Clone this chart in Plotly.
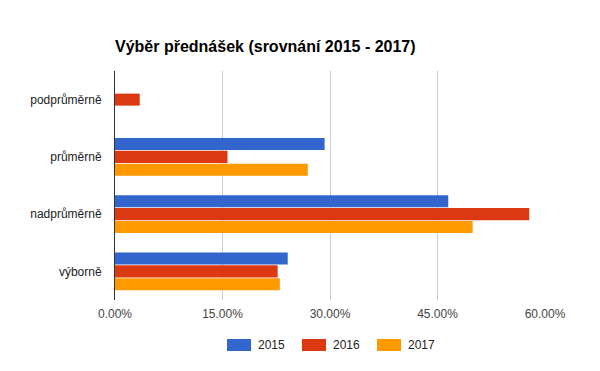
import plotly.graph_objects as go

categories = ["podprůměrně", "průměrně", "nadprůměrně", "výborně"]
years = ["2015", "2016", "2017"]
v2015 = [0, 0.2925, 0.465, 0.241]
v2016 = [0.0345, 0.157, 0.578, 0.227]
v2017 = [0, 0.269, 0.499, 0.230]
colors = ["#3366cc", "#dc3912", "#ff9900"]
tick_vals = [0, 0.15, 0.30, 0.45, 0.60]
tick_text = ["0.00%", "15.00%", "30.00%", "45.00%", "60.00%"]

L, R, T, B, W, H = 115, 55, 71, 71, 600, 371
PW, PH = W - L - R, H - T - B

fig = go.Figure()
for name, vals, col in zip(years, [v2015, v2016, v2017], colors):
    fig.add_trace(go.Bar(
        y=categories, x=vals, name=name, orientation="h",
        marker=dict(color=col, line=dict(width=0)), showlegend=False,
    ))

# custom legend (wide swatches like the reference)
legend_x0 = [227, 302, 377]
for name, col, x0 in zip(years, colors, legend_x0):
    fig.add_shape(type="rect", xref="paper", yref="paper",
                  x0=(x0 - L) / PW, x1=(x0 + 24 - L) / PW,
                  y0=(T + PH - 339) / PH, y1=(T + PH - 351) / PH,
                  fillcolor=col, line=dict(width=0))
    fig.add_annotation(text=name, xref="paper", yref="paper",
                       x=(x0 + 29 - L) / PW, y=(T + PH - 345) / PH,
                       xanchor="left", yanchor="middle", showarrow=False,
                       font=dict(size=12, color="#222"))

fig.update_layout(
    width=W, height=H,
    margin=dict(l=L, r=R, t=T, b=B, autoexpand=False),
    paper_bgcolor="white", plot_bgcolor="white",
    font=dict(family="Liberation Sans, Arial, sans-serif", size=12, color="#222"),
    barmode="group", bargap=0.33, bargroupgap=0.06,
    showlegend=False,
    title=dict(text="<b>Výběr přednášek (srovnání 2015 - 2017)</b>",
               x=0, xref="paper", xanchor="left",
               y=1 - 46 / H, yref="container", yanchor="middle",
               font=dict(size=16, color="#000")),
    xaxis=dict(range=[0, 0.60], tickvals=tick_vals, ticktext=tick_text,
               showgrid=True, gridcolor="#cccccc", gridwidth=1,
               zeroline=False, showline=False, ticks="",
               ticklabelstandoff=5,
               tickfont=dict(color="#444", size=12)),
    yaxis=dict(autorange="reversed", showgrid=False, zeroline=False,
               showline=True, linecolor="#333", linewidth=1, ticks="",
               ticklabelstandoff=10,
               tickfont=dict(color="#222", size=12)),
)

fig.write_html("out.html", config={"displayModeBar": False},
               post_script="document.body.style.margin='0';document.body.style.padding='0';")
